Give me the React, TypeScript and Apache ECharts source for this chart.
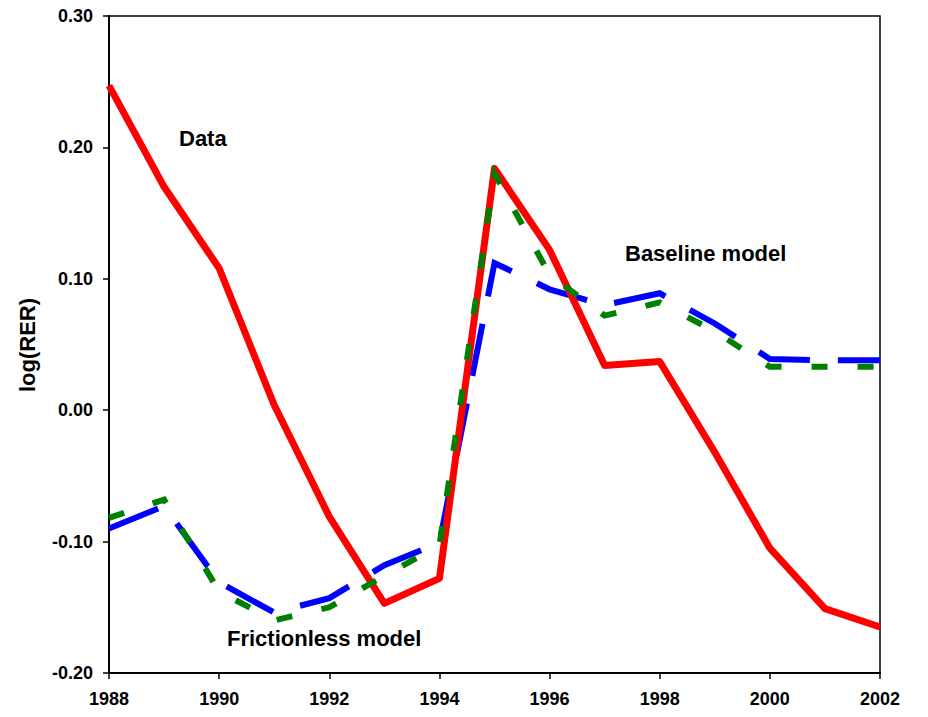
import React, { useEffect, useRef } from "react";
import * as echarts from "echarts";

const years = [1988, 1989, 1990, 1991, 1992, 1993, 1994, 1995, 1996, 1997, 1998, 1999, 2000, 2001, 2002];
const dataValues = [0.247, 0.170, 0.108, 0.004, -0.081, -0.147, -0.128, 0.184, 0.122, 0.034, 0.037, -0.032, -0.105, -0.151, -0.165];
const baselineValues = [-0.090, -0.073, -0.131, -0.154, -0.143, -0.118, -0.101, 0.112, 0.092, 0.080, 0.089, 0.066, 0.039, 0.038, 0.038];
const frictionlessValues = [-0.082, -0.068, -0.138, -0.160, -0.150, -0.126, -0.103, 0.180, 0.103, 0.072, 0.082, 0.060, 0.033, 0.033, 0.033];
const yTicks = { min: -0.2, max: 0.3, interval: 0.1 };
const xTicks = { min: 1988, max: 2002, interval: 2 };
const labels = { data: "Data", baseline: "Baseline model", frictionless: "Frictionless model", yTitle: "log(RER)" };

const FONT = 'Arial, "Liberation Sans", sans-serif';

export default function App() {
  const ref = useRef<HTMLDivElement>(null);
  useEffect(() => {
    if (!ref.current) return;
    const chart = echarts.init(ref.current, null, { renderer: "svg" });
    const pairs = (vals: number[]) => years.map((y, i) => [y, vals[i]]);
    const textStyle = { fontFamily: FONT, fontWeight: "bold", fontSize: 22, fill: "#000" };
    chart.setOption({
      animation: false,
      backgroundColor: "#fff",
      grid: { left: 109, right: 48, top: 16, bottom: 44, show: true, borderColor: "#000", borderWidth: 1.5 },
      xAxis: {
        type: "value",
        min: xTicks.min,
        max: xTicks.max,
        interval: xTicks.interval,
        axisLine: { show: true, onZero: false, lineStyle: { color: "#000", width: 2 } },
        axisTick: { show: true, inside: false, length: 6, lineStyle: { color: "#000", width: 1.5 } },
        axisLabel: { color: "#000", fontFamily: FONT, fontWeight: "bold", fontSize: 18, margin: 17, formatter: (v: number) => String(v) },
        splitLine: { show: false },
      },
      yAxis: {
        type: "value",
        min: yTicks.min,
        max: yTicks.max,
        interval: yTicks.interval,
        axisLine: { show: true, onZero: false, lineStyle: { color: "#000", width: 2 } },
        axisTick: { show: true, inside: false, length: 6, lineStyle: { color: "#000", width: 1.5 } },
        axisLabel: { color: "#000", fontFamily: FONT, fontWeight: "bold", fontSize: 18, margin: 16, formatter: (v: number) => v.toFixed(2) },
        splitLine: { show: false },
      },
      series: [
        {
          name: labels.baseline,
          type: "line",
          data: pairs(baselineValues),
          symbol: "none",
          z: 2,
          lineStyle: { color: "#0000ff", width: 6, type: [53, 28], cap: "butt", join: "miter" },
        },
        {
          name: labels.data,
          type: "line",
          data: pairs(dataValues),
          symbol: "none",
          z: 3,
          lineStyle: { color: "#ff0000", width: 7, type: "solid", join: "round" },
        },
        {
          name: labels.frictionless,
          type: "line",
          data: pairs(frictionlessValues),
          symbol: "none",
          z: 4,
          lineStyle: { color: "#008000", width: 6, type: [16, 30], cap: "butt", join: "miter" },
        },
      ],
      graphic: [
        { type: "text", left: 179, top: 127, style: { ...textStyle, text: labels.data } },
        { type: "text", left: 625, top: 242, style: { ...textStyle, text: labels.baseline } },
        { type: "text", left: 227, top: 627, style: { ...textStyle, text: labels.frictionless } },
        {
          type: "text",
          x: 27,
          y: 345,
          rotation: Math.PI / 2,
          style: { ...textStyle, text: labels.yTitle, textAlign: "center", textVerticalAlign: "middle" },
        },
      ],
    });
    return () => chart.dispose();
  }, []);
  return <div ref={ref} style={{ width: 928, height: 717, position: "absolute", left: 0, top: 0 }} />;
}
